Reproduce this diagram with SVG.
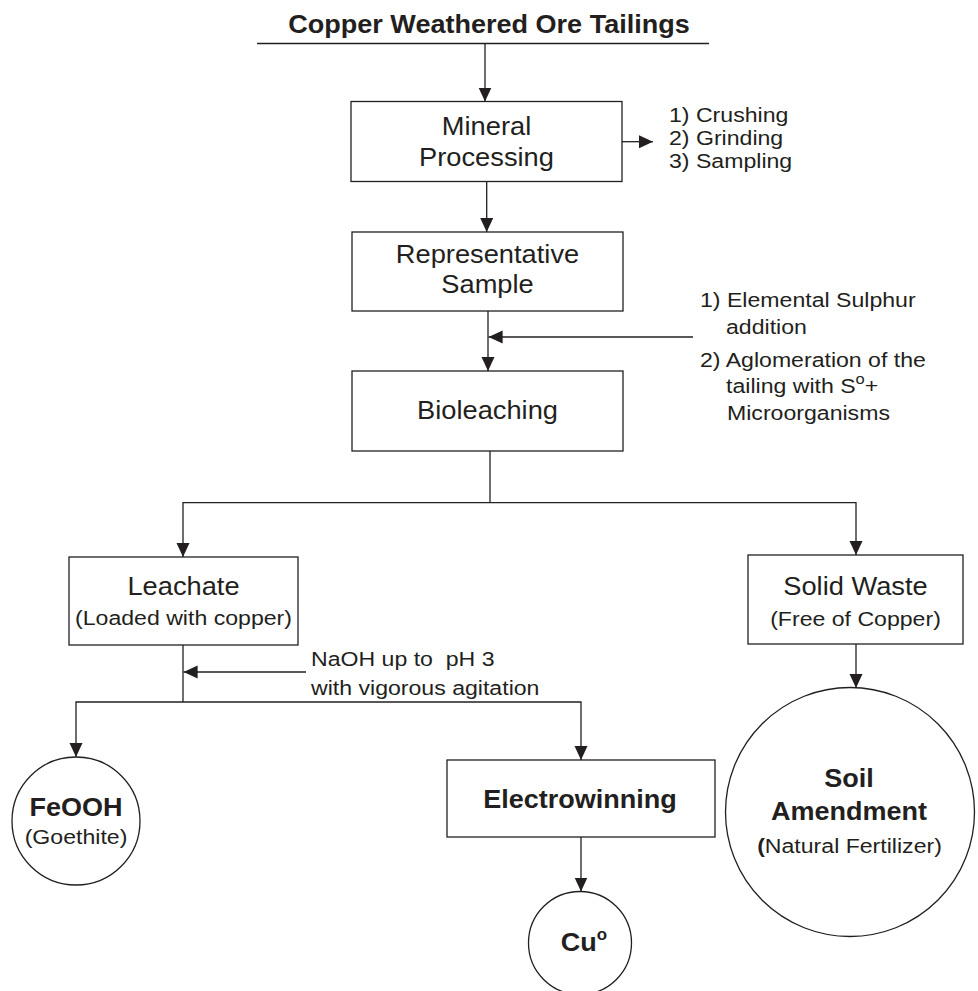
<svg xmlns="http://www.w3.org/2000/svg" width="978" height="991" viewBox="0 0 978 991">
<style>
.ln{stroke:#231f20;stroke-width:1.3;fill:none}
.ar{marker-end:url(#ah)}
.bx{fill:#fff;stroke:#231f20;stroke-width:1.3}
.t{font-family:"Liberation Sans",Arial,Helvetica,sans-serif;fill:#231f20}
.m{font-size:25.5px}
.s{font-size:21px}
.b{font-weight:bold}
.c{text-anchor:middle}
</style>
<defs>
<marker id="ah" markerUnits="userSpaceOnUse" markerWidth="15" markerHeight="14" refX="14" refY="6.5" orient="auto"><path d="M0,0 L14,6.5 L0,13 z" fill="#231f20"/></marker>
</defs>
<rect width="978" height="991" fill="#fff"/>

<g id="connectors">
<path class="ln ar" d="M485,44 V101.5"/>
<path class="ln ar" d="M622,141.7 H653"/>
<path class="ln ar" d="M486.7,181.5 V232"/>
<path class="ln ar" d="M488,311 V371"/>
<path class="ln ar" d="M693,337 H488.6"/>
<path class="ln" d="M490,451 V502.7"/>
<path class="ln ar" d="M490,502.7 H183 V557"/>
<path class="ln ar" d="M490,502.7 H856 V555"/>
<path class="ln ar" d="M856,644 V688"/>
<path class="ln" d="M183,645 V702"/>
<path class="ln ar" d="M183,702 H76 V757"/>
<path class="ln ar" d="M183,702 H581 V760"/>
<path class="ln ar" d="M306,672 H183.6"/>
<path class="ln ar" d="M581,837 V891.5"/>
</g>

<g id="title">
<text class="t b c" font-size="26" transform="translate(489 33) scale(1.04 1)">Copper Weathered Ore Tailings</text>
<line class="ln" x1="257" y1="43.5" x2="709" y2="43.5"/>
</g>

<g id="mineral-processing">
<rect class="bx" x="351" y="101.5" width="271" height="80"/>
<text class="t m c" transform="translate(486.5 135) scale(1.07 1)">Mineral</text>
<text class="t m c" transform="translate(486.5 166) scale(1.07 1)">Processing</text>
</g>

<g id="processing-steps">
<text class="t s" transform="translate(669 121.7) scale(1.1 1)">1) Crushing</text>
<text class="t s" transform="translate(669 145) scale(1.1 1)">2) Grinding</text>
<text class="t s" transform="translate(669 168.3) scale(1.1 1)">3) Sampling</text>
</g>

<g id="representative-sample">
<rect class="bx" x="352" y="232" width="271" height="79"/>
<text class="t m c" transform="translate(487.5 263) scale(1.07 1)">Representative</text>
<text class="t m c" transform="translate(487.5 293) scale(1.07 1)">Sample</text>
</g>

<g id="sulphur-addition">
<text class="t s" transform="translate(700 307) scale(1.1 1)">1) Elemental Sulphur</text>
<text class="t s" transform="translate(726 334) scale(1.1 1)">addition</text>
<text class="t s" transform="translate(700 366.5) scale(1.1 1)">2) Aglomeration of the</text>
<text class="t s" transform="translate(726 393) scale(1.1 1)">tailing with S<tspan font-size="15" dy="-9">o</tspan><tspan dy="9">+</tspan></text>
<text class="t s" transform="translate(727 419.5) scale(1.1 1)">Microorganisms</text>
</g>

<g id="bioleaching">
<rect class="bx" x="352" y="371" width="271" height="80"/>
<text class="t m c" transform="translate(487.5 419) scale(1.07 1)">Bioleaching</text>
</g>

<g id="leachate">
<rect class="bx" x="69" y="557" width="229" height="88"/>
<text class="t m c" transform="translate(183.5 595) scale(1.07 1)">Leachate</text>
<text class="t s c" transform="translate(183.5 625) scale(1.1 1)">(Loaded with copper)</text>
</g>

<g id="solid-waste">
<rect class="bx" x="748" y="555" width="215" height="89"/>
<text class="t m c" transform="translate(855.5 595) scale(1.07 1)">Solid Waste</text>
<text class="t s c" transform="translate(855.5 626) scale(1.1 1)">(Free of Copper)</text>
</g>

<g id="naoh">
<text class="t s" xml:space="preserve" transform="translate(311 666) scale(1.1 1)">NaOH up to  pH 3</text>
<text class="t s" transform="translate(311 695) scale(1.1 1)">with vigorous agitation</text>
</g>

<g id="feooh">
<circle class="bx" cx="76" cy="821" r="64"/>
<text class="t m b c" transform="translate(76 815.7) scale(1.06 1)">FeOOH</text>
<text class="t s c" transform="translate(76 844) scale(1.1 1)">(Goethite)</text>
</g>

<g id="electrowinning">
<rect class="bx" x="447" y="760" width="268" height="77"/>
<text class="t m b c" transform="translate(580 808) scale(1.06 1)">Electrowinning</text>
</g>

<g id="cu">
<circle class="bx" cx="580" cy="943" r="51.5"/>
<text class="t m b c" transform="translate(584 951) scale(1.06 1)">Cu<tspan font-size="16" dy="-11">o</tspan></text>
</g>

<g id="soil-amendment">
<circle class="bx" cx="850" cy="812" r="124.5"/>
<text class="t m b c" transform="translate(849 786.7) scale(1.06 1)">Soil</text>
<text class="t m b c" transform="translate(849 820) scale(1.06 1)">Amendment</text>
<text class="t s c" transform="translate(849.5 853) scale(1.1 1)"><tspan font-weight="bold">(</tspan>Natural Fertilizer)</text>
</g>
</svg>
